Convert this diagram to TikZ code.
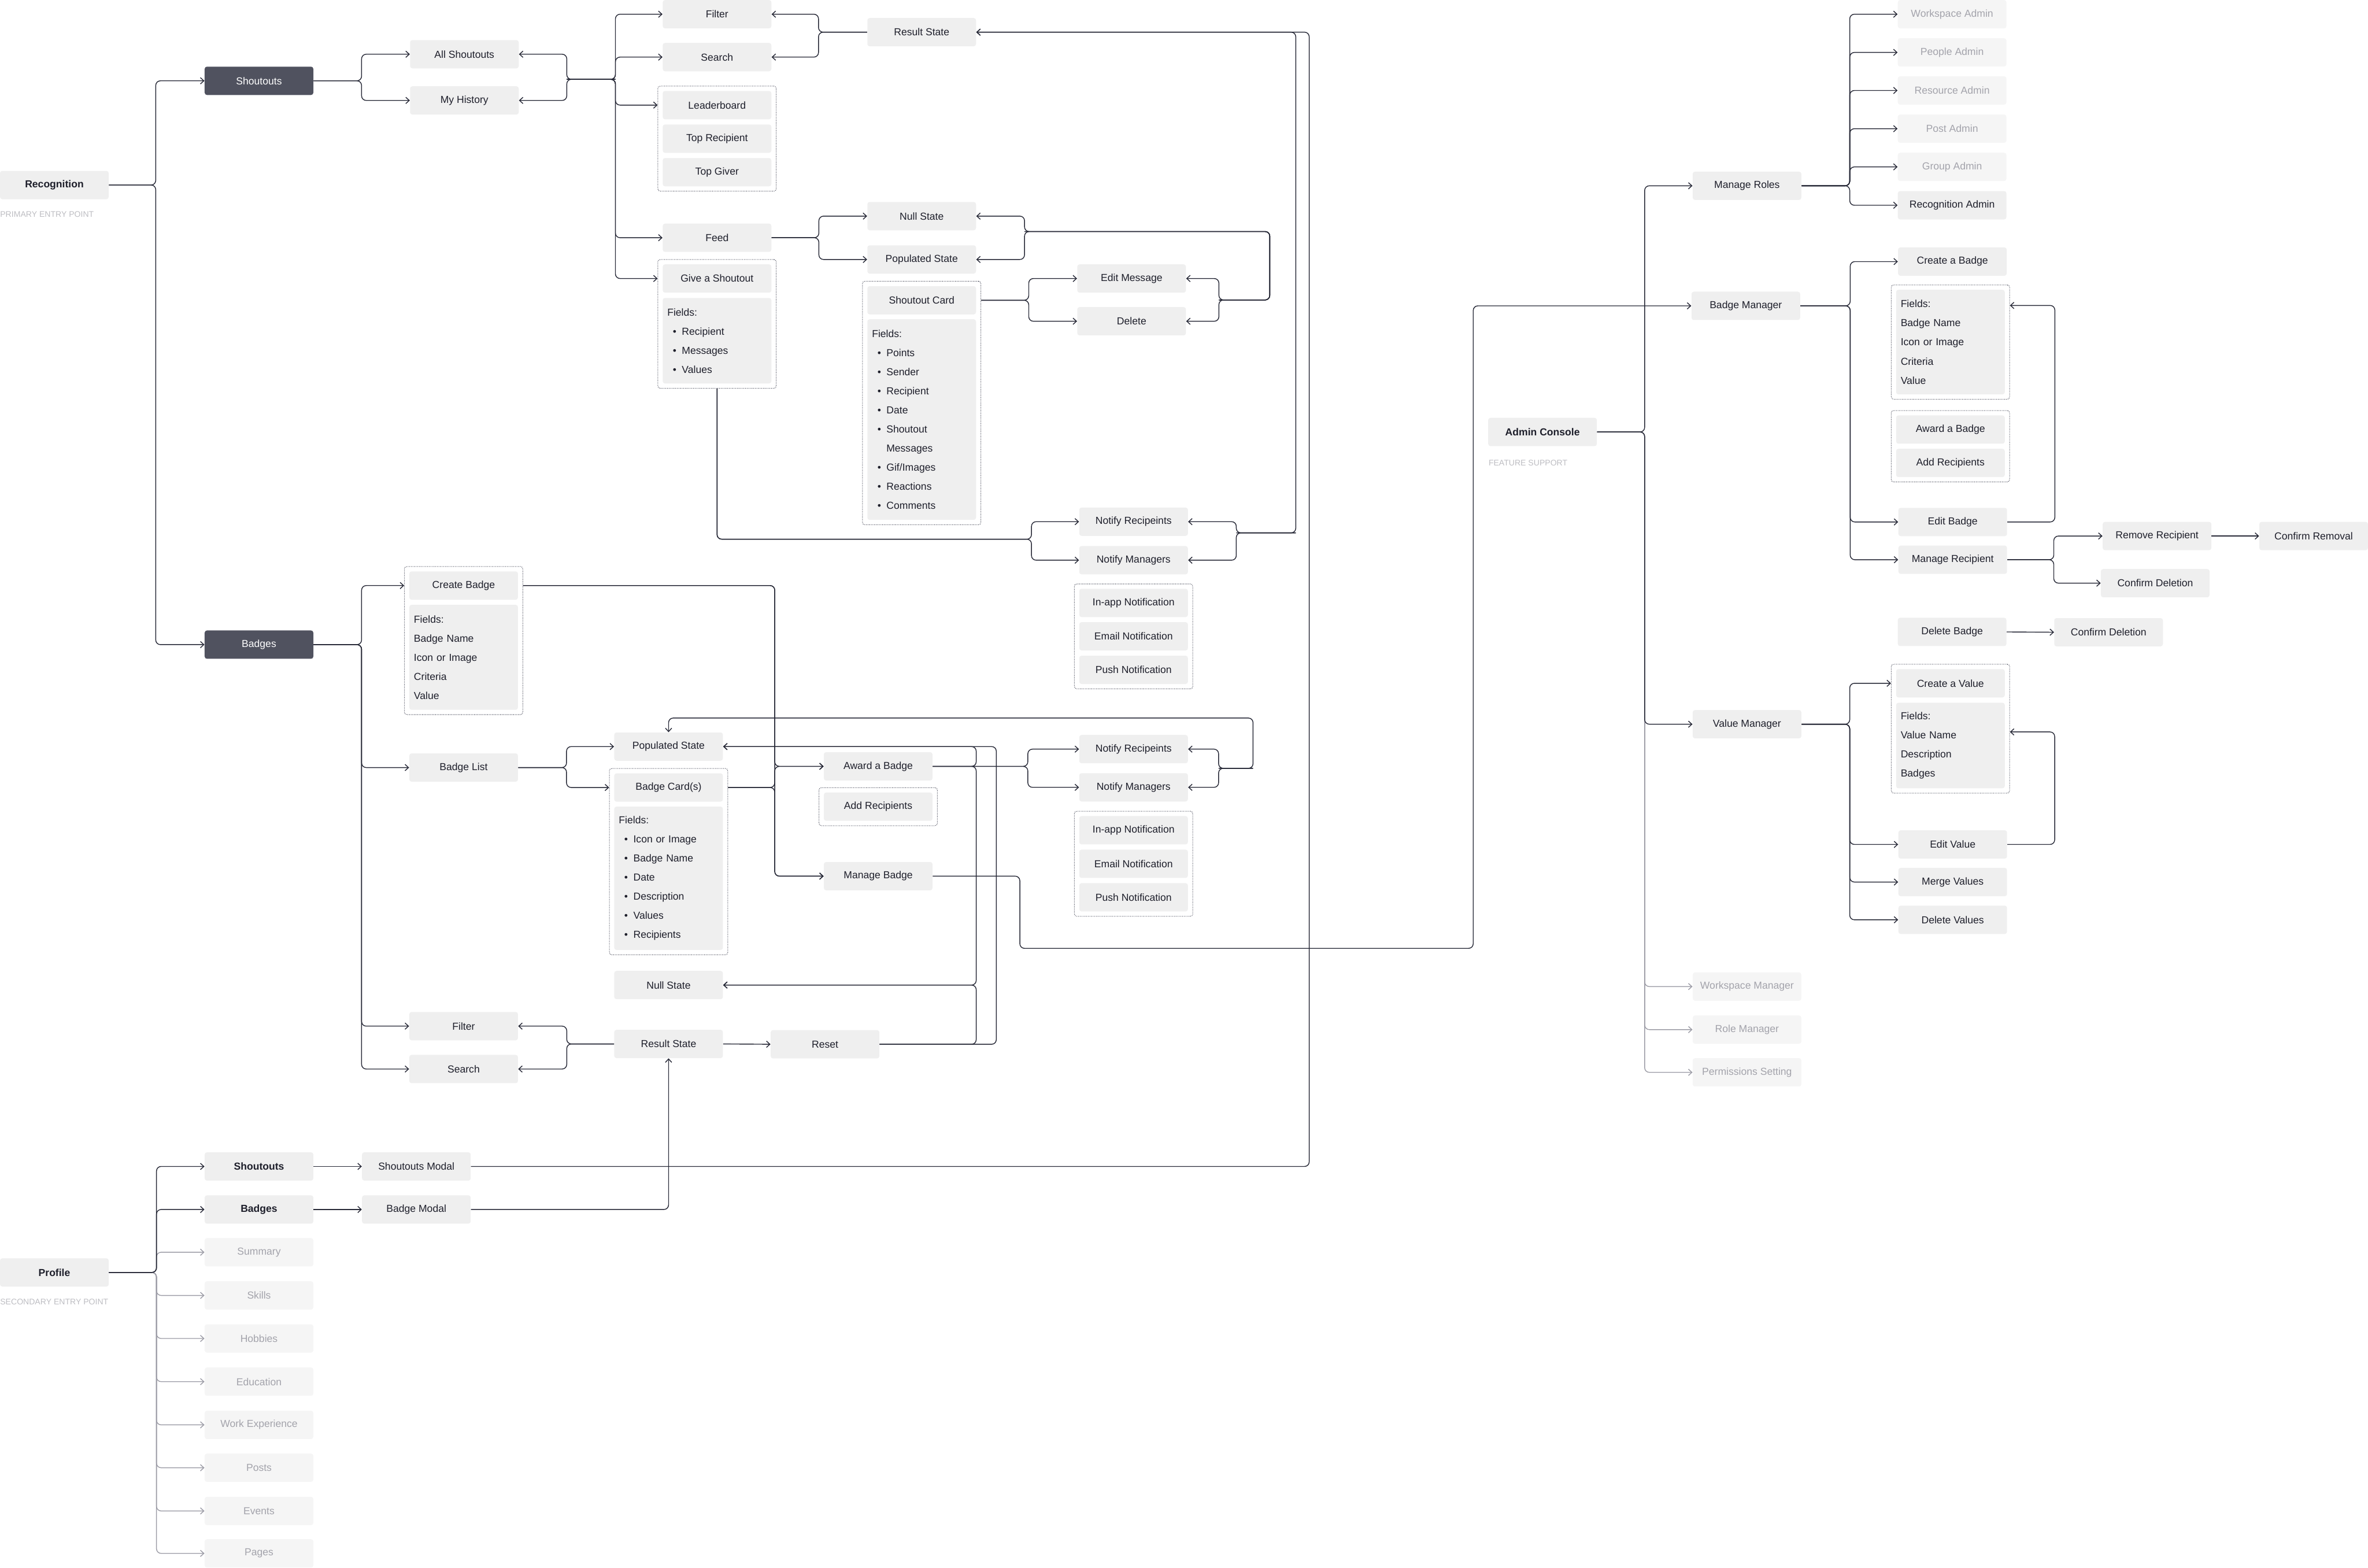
\documentclass[tikz,border=0pt]{standalone}
\usepackage{fontspec}
\setmainfont{Liberation Sans}
\usepackage{tikz}
\usetikzlibrary{positioning,arrows.meta,fit}
\definecolor{inkdark}{HTML}{1E1F2B}
\definecolor{linedark}{HTML}{262836}
\definecolor{linegrey}{HTML}{9C9CA6}
\definecolor{boxgrey}{HTML}{EFEFEF}
\definecolor{dimgrey}{HTML}{F5F5F5}
\definecolor{dimtext}{HTML}{A3A3AB}
\definecolor{tabdark}{HTML}{50525F}
\definecolor{grpline}{HTML}{3E4050}
\definecolor{notegrey}{HTML}{BDBDC2}
\newcommand{\fielditem}{\hspace*{1.9mm}\textbullet\hspace{1.9mm}}
\newcommand{\fieldcont}{\hspace*{5mm}}

\begin{document}
\begin{tikzpicture}[
  x=0.5224mm, y=-0.5224mm,
  font=\fontsize{10}{11.5}\selectfont,
  box/.style={rectangle,rounded corners=0.8mm,fill=boxgrey,text=inkdark,minimum width=37.6mm,minimum height=9.8mm,inner sep=1pt},
  darkbox/.style={box,fill=tabdark,text=white},
  dimbox/.style={box,fill=dimgrey,text=dimtext},
  mainbox/.style={box,font=\fontsize{10}{11.5}\selectfont\bfseries},
  fieldbox/.style={box,align=left,text width=34.4mm,inner xsep=1.6mm,font=\fontsize{10}{18.8}\selectfont},
  grp/.style={draw=grpline,densely dotted,line width=0.6pt,rounded corners=0.8mm,inner sep=1.6mm},
  note/.style={anchor=west,text=notegrey,font=\fontsize{8}{9}\selectfont,inner sep=0pt},
  arr/.style={-{Straight Barb[length=1.2mm,width=2.2mm]},line width=0.8pt,draw=linedark,rounded corners=1.6mm},
  dimarr/.style={arr,draw=linegrey},
]
\useasboundingbox (0,0) rectangle (1568,1038);

% Recognition entry
\node[mainbox] (recog) at (36,122.5) {Recognition};
\node[note] (recognote) at (0,142) {PRIMARY ENTRY POINT};
\node[darkbox] (shout)  at (171.5,53.5)  {Shoutouts};
\node[darkbox] (badges) at (171.5,426.8) {Badges};

% Shoutouts pages
\node[box] (allsh)  at (307.5,35.9) {All Shoutouts};
\node[box] (myhist) at (307.5,66.5) {My History};
\node[box] (filter) at (474.8,9.4)  {Filter};
\node[box] (search) at (474.8,37.8) {Search};
\node[box] (lead)   at (474.8,69.6) {Leaderboard};
\node[box] (toprec) at (474.8,91.8) {Top Recipient};
\node[box] (topgiv) at (474.8,114)  {Top Giver};
\node[grp,fit=(lead)(topgiv)] (leadgrp) {};
\node[box] (feed)   at (474.8,157.4) {Feed};
\node[box] (give)   at (474.8,184.4) {Give a Shoutout};
\node[fieldbox,minimum height=29.6mm] (givefields) at (474.8,225.6)
  {Fields:\\\fielditem Recipient\\\fielditem Messages\\\fielditem Values};
\node[grp,fit=(give)(givefields)] (givegrp) {};

% Shoutouts states
\node[box] (result)  at (610.3,21.3)  {Result State};
\node[box] (nullst)  at (610.3,143.1) {Null State};
\node[box] (popst)   at (610.3,171.8) {Populated State};
\node[box] (card)    at (610.3,198.8) {Shoutout Card};
\node[fieldbox,minimum height=69.4mm] (cardfields) at (610.3,277.8)
  {Fields:\\\fielditem Points\\\fielditem Sender\\\fielditem Recipient\\\fielditem Date\\\fielditem Shoutout\\\fieldcont Messages\\\fielditem Gif/Images\\\fielditem Reactions\\\fielditem Comments};
\node[grp,fit=(card)(cardfields)] (cardgrp) {};
\node[box] (editmsg) at (749.3,184.4) {Edit Message};
\node[box] (delete)  at (749.3,212.7) {Delete};
\node[box] (notrec)  at (750.6,345.4) {Notify Recipeints};
\node[box] (notmgr)  at (750.6,370.9) {Notify Managers};
\node[box] (inapp)   at (750.6,399.2) {In-app Notification};
\node[box] (email)   at (750.6,421.3) {Email Notification};
\node[box] (push)    at (750.6,443.5) {Push Notification};
\node[grp,fit=(inapp)(push)] (notegrp) {};

% Badges pages
\node[box] (cbadge)  at (307,387.7) {Create Badge};
\node[fieldbox,minimum height=36.3mm] (cbfields) at (307,435.2)
  {Fields:\\Badge Name\\Icon or Image\\Criteria\\Value};
\node[grp,fit=(cbadge)(cbfields)] (cbgrp) {};
\node[box] (blist)   at (307,508.2) {Badge List};
\node[box] (bfilter) at (307,679.4) {Filter};
\node[box] (bsearch) at (307,707.8) {Search};
\node[box] (bpop)    at (442.7,494.3) {Populated State};
\node[box] (bcard)   at (442.7,521.4) {Badge Card(s)};
\node[fieldbox,minimum height=49.6mm] (bcfields) at (442.7,581.5)
  {Fields:\\\fielditem Icon or Image\\\fielditem Badge Name\\\fielditem Date\\\fielditem Description\\\fielditem Values\\\fielditem Recipients};
\node[grp,fit=(bcard)(bcfields)] (bcardgrp) {};
\node[box] (bnull)   at (442.7,652.2) {Null State};
\node[box] (bresult) at (442.7,691.2) {Result State};
\node[box] (reset)   at (546.3,691.4) {Reset};
\node[box] (award)   at (581.5,507.4) {Award a Badge};
\node[box] (addrec)  at (581.5,534.1) {Add Recipients};
\node[grp,fit=(addrec)] (addgrp) {};
\node[box] (manage)  at (581.5,580.1) {Manage Badge};
\node[box] (bnotrec) at (750.6,496)   {Notify Recipeints};
\node[box] (bnotmgr) at (750.6,521.3) {Notify Managers};
\node[box] (binapp)  at (750.6,549.7) {In-app Notification};
\node[box] (bemail)  at (750.6,571.9) {Email Notification};
\node[box] (bpush)   at (750.6,594.1) {Push Notification};
\node[grp,fit=(binapp)(bpush)] (bnotegrp) {};

% Profile entry
\node[mainbox] (profile) at (36,842.5) {Profile};
\node[note] (profnote) at (0,861.8) {SECONDARY ENTRY POINT};
\node[mainbox] (pshout) at (171.5,772.3) {Shoutouts};
\node[mainbox] (pbadge) at (171.5,800.8) {Badges};
\node[dimbox] (summary)   at (171.5,829.1)  {Summary};
\node[dimbox] (skills)    at (171.5,857.7)  {Skills};
\node[dimbox] (hobbies)   at (171.5,886.2)  {Hobbies};
\node[dimbox] (education) at (171.5,914.8)  {Education};
\node[dimbox] (workexp)   at (171.5,943.4)  {Work Experience};
\node[dimbox] (posts)     at (171.5,971.8)  {Posts};
\node[dimbox] (events)    at (171.5,1000.4) {Events};
\node[dimbox] (pages)     at (171.5,1028.5) {Pages};
\node[box] (smodal) at (275.7,772.3) {Shoutouts Modal};
\node[box] (bmodal) at (275.7,800.8) {Badge Modal};

% Admin console
\node[mainbox] (admin) at (1021.4,286) {Admin Console};
\node[note] (adminnote) at (985.6,306.6) {FEATURE SUPPORT};
\node[box] (roles)      at (1156.8,123)   {Manage Roles};
\node[box] (bmgr)       at (1156,202.5)   {Badge Manager};
\node[box] (vmgr)       at (1156.8,479.5) {Value Manager};
\node[dimbox] (wsmgr)   at (1156.8,653.2) {Workspace Manager};
\node[dimbox] (rolemgr) at (1156.8,681.7) {Role Manager};
\node[dimbox] (perm)    at (1156.8,710)   {Permissions Setting};
\node[dimbox] (wsadmin)   at (1292.6,9.4)   {Workspace Admin};
\node[dimbox] (peopleadm) at (1292.6,34.7)  {People Admin};
\node[dimbox] (resadm)    at (1292.6,59.9)  {Resource Admin};
\node[dimbox] (postadm)   at (1292.6,85.2)  {Post Admin};
\node[dimbox] (groupadm)  at (1292.6,110.5) {Group Admin};
\node[box] (recadm)       at (1292.6,135.9) {Recognition Admin};
\node[box] (acbadge) at (1292.8,173.2) {Create a Badge};
\node[fieldbox,minimum height=36.2mm] (acfields) at (1291.5,226.5)
  {Fields:\\Badge Name\\Icon or Image\\Criteria\\Value};
\node[grp,fit=(acfields)] (acgrp) {};
\node[box] (acaward)  at (1291.5,284.4) {Award a Badge};
\node[box] (acaddrec) at (1291.5,306.5) {Add Recipients};
\node[grp,fit=(acaward)(acaddrec)] (acawgrp) {};
\node[box] (editbadge)  at (1293,345.6)   {Edit Badge};
\node[box] (managerec)  at (1293,370.6)   {Manage Recipient};
\node[box] (removerec)  at (1428.3,354.9) {Remove Recipient};
\node[box] (confdelrec) at (1427.1,386.1) {Confirm Deletion};
\node[box] (confrem)    at (1532,354.9)   {Confirm Removal};
\node[box] (delbadge)   at (1292.6,418.4) {Delete Badge};
\node[box] (confdelbad) at (1396.2,418.6) {Confirm Deletion};
\node[box] (cvalue) at (1291.5,452.4) {Create a Value};
\node[fieldbox,minimum height=29.6mm] (cvfields) at (1291.5,493.6)
  {Fields:\\Value Name\\Description\\Badges};
\node[grp,fit=(cvalue)(cvfields)] (cvgrp) {};
\node[box] (editval)  at (1293,559.1) {Edit Value};
\node[box] (mergeval) at (1293,584)   {Merge Values};
\node[box] (delval)   at (1293,609)   {Delete Values};

% Recognition tree
\draw[arr] (recog.east) -- ++(31,0) |- (shout.west);
\draw[arr] (recog.east) -- ++(31,0) |- (badges.west);
\draw[arr] (shout.east) -- ++(31.8,0) |- (allsh.west);
\draw[arr] (shout.east) -- ++(31.8,0) |- (myhist.west);

% Shoutouts pages bus
\coordinate (sjoin) at (375.3,52.5);
\coordinate (sbus) at (407.5,52.5);
\draw[arr] (sbus) -- (sjoin) |- (allsh.east);
\draw[arr] (sbus) -- (sjoin) |- (myhist.east);
\draw[arr] (sjoin) -- (sbus) |- (filter.west);
\draw[arr] (sjoin) -- (sbus) |- (search.west);
\draw[arr] (sjoin) -- (sbus) |- (lead.west -| leadgrp.west);
\draw[arr] (sjoin) -- (sbus) |- (feed.west);
\draw[arr] (sjoin) -- (sbus) |- (give.west -| givegrp.west);

% Shoutouts states
\draw[arr] (result.west) -- ++(-32.2,0) |- (filter.east);
\draw[arr] (result.west) -- ++(-32.2,0) |- (search.east);
\draw[arr] (feed.east) -- ++(31.3,0) |- (nullst.west);
\draw[arr] (feed.east) -- ++(31.3,0) |- (popst.west);
\draw[arr] (card.east -| cardgrp.east) -- ++(31.5,0) |- (editmsg.west);
\draw[arr] (card.east -| cardgrp.east) -- ++(31.5,0) |- (delete.west);

% Edit / delete loop back to states
\coordinate (edbus) at (807.1,198.6);
\coordinate (edcol) at (840.8,198.6);
\coordinate (nscol) at (840.8,153.3);
\coordinate (nsbus) at (678.4,153.3);
\draw[arr] (nsbus) -- (nscol) |- (edbus) |- (editmsg.east);
\draw[arr] (nsbus) -- (nscol) |- (edbus) |- (delete.east);
\draw[arr] (edbus) -- (edcol) |- (nsbus) |- (nullst.east);
\draw[arr] (edbus) -- (edcol) |- (nsbus) |- (popst.east);

% Give a shoutout -> notify -> result
\coordinate (gbus) at (683,357);
\draw[arr] (givegrp.south) |- (gbus) |- (notrec.west);
\draw[arr] (givegrp.south) |- (gbus) |- (notmgr.west);
\coordinate (nbus) at (818.6,352.8);
\coordinate (ncol) at (858,352.8);
\draw[arr] (ncol) -- (nbus) |- (notrec.east);
\draw[arr] (ncol) -- (nbus) |- (notmgr.east);
\draw[arr] (nbus) -- (ncol) |- (result.east);

% Badges tree
\draw[arr] (badges.east) -- ++(31.8,0) |- (cbadge.west -| cbgrp.west);
\draw[arr] (badges.east) -- ++(31.8,0) |- (blist.west);
\draw[arr] (badges.east) -- ++(31.8,0) |- (bfilter.west);
\draw[arr] (badges.east) -- ++(31.8,0) |- (bsearch.west);
\draw[arr] (blist.east) -- ++(32,0) |- (bpop.west);
\draw[arr] (blist.east) -- ++(32,0) |- (bcard.west -| bcardgrp.west);
\draw[arr] (bresult.west) -- ++(-31.3,0) |- (bfilter.east);
\draw[arr] (bresult.west) -- ++(-31.3,0) |- (bsearch.east);
\draw[arr] (bresult.east) -- (reset.west);

% Create badge / cards -> award, manage
\coordinate (abus) at (513,521.4);
\draw[arr] (cbadge.east -| cbgrp.east) -| (abus |- award.west) -- (award.west);
\draw[arr] (cbadge.east -| cbgrp.east) -| (abus) |- (manage.west);
\draw[arr] (bcard.east -| bcardgrp.east) -- (abus) |- (award.west);
\draw[arr] (bcard.east -| bcardgrp.east) -- (abus) |- (manage.west);

% Award -> notify -> populated state
\coordinate (anbus) at (680.6,507.4);
\draw[arr] (award.east) -- (anbus) |- (bnotrec.west);
\draw[arr] (award.east) -- (anbus) |- (bnotmgr.west);
\coordinate (bnbus) at (806.9,508.7);
\coordinate (bncol) at (829.7,508.7);
\coordinate (bntop) at (829.7,475.4);
\draw[arr] (bncol) -- (bnbus) |- (bnotrec.east);
\draw[arr] (bncol) -- (bnbus) |- (bnotmgr.east);
\draw[arr] (bnbus) -- (bncol) -- (bntop) -| (bpop.north);

% Reset / award -> states
\coordinate (rcolA) at (646.4,691.4);
\coordinate (rcolB) at (659.7,691.4);
\draw[arr] (reset.east) -- (rcolB) |- (bpop.east);
\draw[arr] (reset.east) -- (rcolA) |- (bnull.east);
\draw[arr] (award.east) -| (rcolA |- bpop.east) -- (bpop.east);
\draw[arr] (award.east) -| (rcolA |- bnull.east) -- (bnull.east);

% Manage badge -> admin badge manager
\coordinate (mgcol) at (675.3,627.9);
\coordinate (accol) at (975.5,627.9);
\draw[arr] (manage.east) -| (mgcol) -- (accol) |- (bmgr.west);

% Profile tree
\draw[dimarr] (profile.east) -- ++(31.5,0) |- (summary.west);
\draw[dimarr] (profile.east) -- ++(31.5,0) |- (skills.west);
\draw[dimarr] (profile.east) -- ++(31.5,0) |- (hobbies.west);
\draw[dimarr] (profile.east) -- ++(31.5,0) |- (education.west);
\draw[dimarr] (profile.east) -- ++(31.5,0) |- (workexp.west);
\draw[dimarr] (profile.east) -- ++(31.5,0) |- (posts.west);
\draw[dimarr] (profile.east) -- ++(31.5,0) |- (events.west);
\draw[dimarr] (profile.east) -- ++(31.5,0) |- (pages.west);
\draw[arr] (profile.east) -- ++(31.5,0) |- (pshout.west);
\draw[arr] (profile.east) -- ++(31.5,0) |- (pbadge.west);
\draw[arr] (pshout.east) -- (smodal.west);
\draw[arr] (pbadge.east) -- (bmodal.west);
\coordinate (scol) at (866.9,772.3);
\draw[arr] (smodal.east) -- (scol) |- (result.east);
\draw[arr] (bmodal.east) -| (bresult.south);

% Admin tree
\draw[dimarr] (admin.east) -- ++(31.5,0) |- (wsmgr.west);
\draw[dimarr] (admin.east) -- ++(31.5,0) |- (rolemgr.west);
\draw[dimarr] (admin.east) -- ++(31.5,0) |- (perm.west);
\draw[arr] (admin.east) -- ++(31.5,0) |- (roles.west);
\draw[arr] (admin.east) -- ++(31.5,0) |- (vmgr.west);
\draw[arr] (roles.east) -- ++(31.9,0) |- (wsadmin.west);
\draw[arr] (roles.east) -- ++(31.9,0) |- (peopleadm.west);
\draw[arr] (roles.east) -- ++(31.9,0) |- (resadm.west);
\draw[arr] (roles.east) -- ++(31.9,0) |- (postadm.west);
\draw[arr] (roles.east) -- ++(31.9,0) |- (groupadm.west);
\draw[arr] (roles.east) -- ++(31.9,0) |- (recadm.west);
\draw[arr] (bmgr.east) -- ++(33,0) |- (acbadge.west);
\draw[arr] (bmgr.east) -- ++(33,0) |- (editbadge.west);
\draw[arr] (bmgr.east) -- ++(33,0) |- (managerec.west);
\draw[arr] (editbadge.east) -- ++(31.5,0) |- ([yshift=-7.2mm]acgrp.north east);
\draw[arr] (managerec.east) -- ++(30.8,0) |- (removerec.west);
\draw[arr] (managerec.east) -- ++(30.8,0) |- (confdelrec.west);
\draw[arr] (removerec.east) -- (confrem.west);
\draw[arr] (delbadge.east) -- (confdelbad.west);
\draw[arr] (vmgr.east) -- ++(31.9,0) |- (cvalue.west -| cvgrp.west);
\draw[arr] (vmgr.east) -- ++(31.9,0) |- (editval.west);
\draw[arr] (vmgr.east) -- ++(31.9,0) |- (mergeval.west);
\draw[arr] (vmgr.east) -- ++(31.9,0) |- (delval.west);
\draw[arr] (editval.east) -- ++(31.4,0) |- ([yshift=-23.5mm]cvgrp.north east);
\end{tikzpicture}
\end{document}
